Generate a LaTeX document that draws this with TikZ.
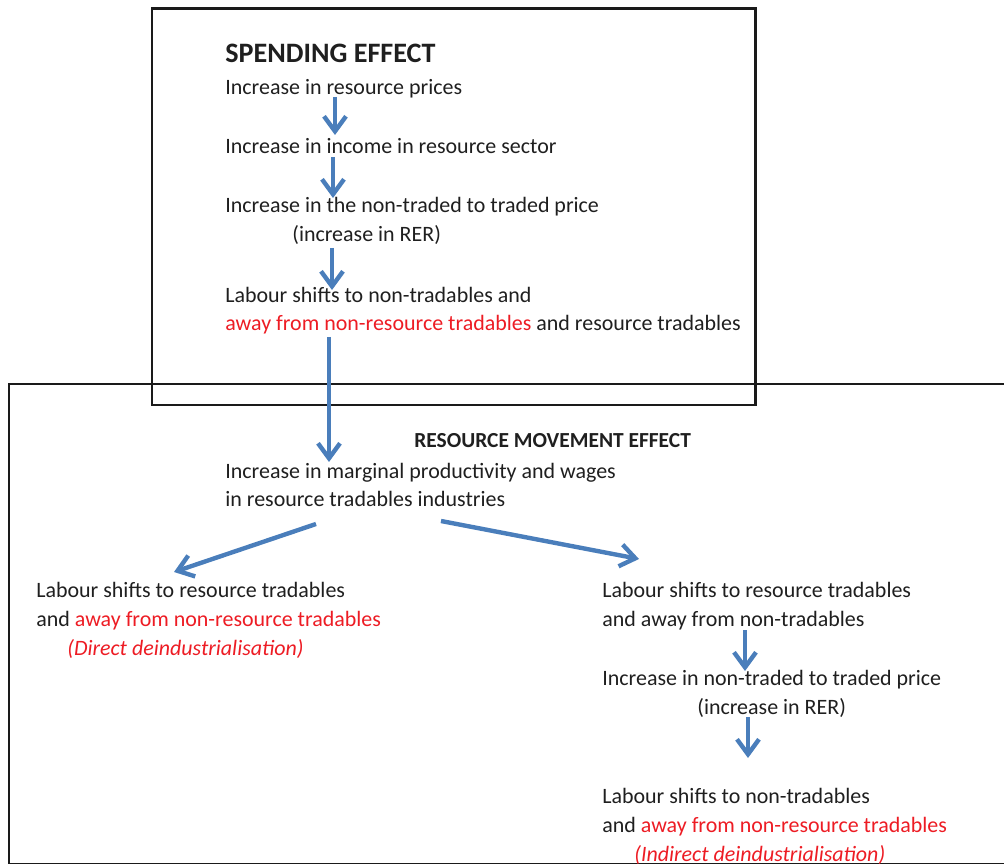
\documentclass[tikz,border=0pt]{standalone}
\usepackage{fontspec}
\setmainfont{Carlito}
\usepackage{xcolor}
\usetikzlibrary{arrows.meta,calc,positioning}
\definecolor{flowblue}{RGB}{74,126,187}
\definecolor{effred}{RGB}{237,28,36}
\definecolor{boxline}{RGB}{26,26,26}

\begin{document}
\begin{tikzpicture}[x=0.02cm, y=-0.02cm,
    txt/.style={anchor=base west, inner sep=0pt, align=left, text=black!88,
      font=\fontsize{12.5}{16.5}\selectfont},
    head/.style={anchor=base west, inner sep=0pt, text=black!88,
      font=\bfseries\fontsize{16}{19}\selectfont},
    subhead/.style={anchor=base west, inner sep=0pt, text=black!88,
      font=\bfseries\fontsize{12.2}{14}\selectfont},
    flow/.style={draw=flowblue, line width=2.5pt,
      -{Straight Barb[length=0.3cm,width=0.44cm]}},
    effbox/.style={draw=boxline, line width=1.7pt}]
    \useasboundingbox (0,0) rectangle (1004,864);

    % Boxes
    \draw[effbox] (152,9) rectangle (755,405);
    \draw[effbox] (9,384) rectangle (1015,864);

    % Spending effect
    \node[head] (spend) at (225,63) {SPENDING EFFECT};
    \node[txt] (prices) at (225,95) {Increase in resource prices};
    \node[txt] (income) at (225,154) {Increase in income in resource sector};
    \node[txt] (ntprice) at (225,213) {Increase in the non-traded to traded price};
    \node[txt] (rer) at (292,242) {(increase in RER)};
    \node[txt] (shiftnt) at (225,331) {Labour shifts to non-tradables and\\
      \textcolor{effred}{away from non-resource tradables} and resource tradables};

    % Resource movement effect
    \node[subhead] (rme) at (414,448) {RESOURCE MOVEMENT EFFECT};
    \node[txt] (wages) at (225,507) {Increase in marginal productivity and wages\\
      in resource tradables industries};
    \node[txt] (direct) at (36,626) {Labour shifts to resource tradables\\
      and \textcolor{effred}{away from non-resource tradables}};
    \node[txt, text=effred] (dlabel) at (67,655) {\textit{(Direct deindustrialisation)}};
    \node[txt] (shiftrt) at (602,626) {Labour shifts to resource tradables\\
      and away from non-tradables};
    \node[txt] (ntprice2) at (602,685) {Increase in non-traded to traded price};
    \node[txt] (rer2) at (697,714) {(increase in RER)};
    \node[txt] (indirect) at (602,832) {Labour shifts to non-tradables\\
      and \textcolor{effred}{away from non-resource tradables}};
    \node[txt, text=effred] (ilabel) at (634,861) {\textit{(Indirect deindustrialisation)}};

    % Arrows
    \draw[flow] ([shift={(110,2)}]prices.base west) -- ([shift={(110,-19)}]income.base west);
    \draw[flow] ([shift={(108,3)}]income.base west) -- ([shift={(108,-15)}]ntprice.base west);
    \draw[flow] ([shift={(40,6)}]rer.base west) -- ([shift={(107,-41)}]shiftnt.base west);
    \draw[flow] ([shift={(104,6)}]shiftnt.base west) -- ([shift={(104,-45)}]wages.base west);
    \draw[flow] ([shift={(91,17)}]wages.base west) -- ([shift={(138,-54)}]direct.base west);
    \draw[flow] ([shift={(216,14)}]wages.base west) -- ([shift={(37,-67)}]shiftrt.base west);
    \draw[flow] ([shift={(143,4)}]shiftrt.base west) -- ([shift={(143,-14)}]ntprice2.base west);
    \draw[flow] ([shift={(51,3)}]rer2.base west) -- ([shift={(146,-74)}]indirect.base west);
\end{tikzpicture}
\end{document}
